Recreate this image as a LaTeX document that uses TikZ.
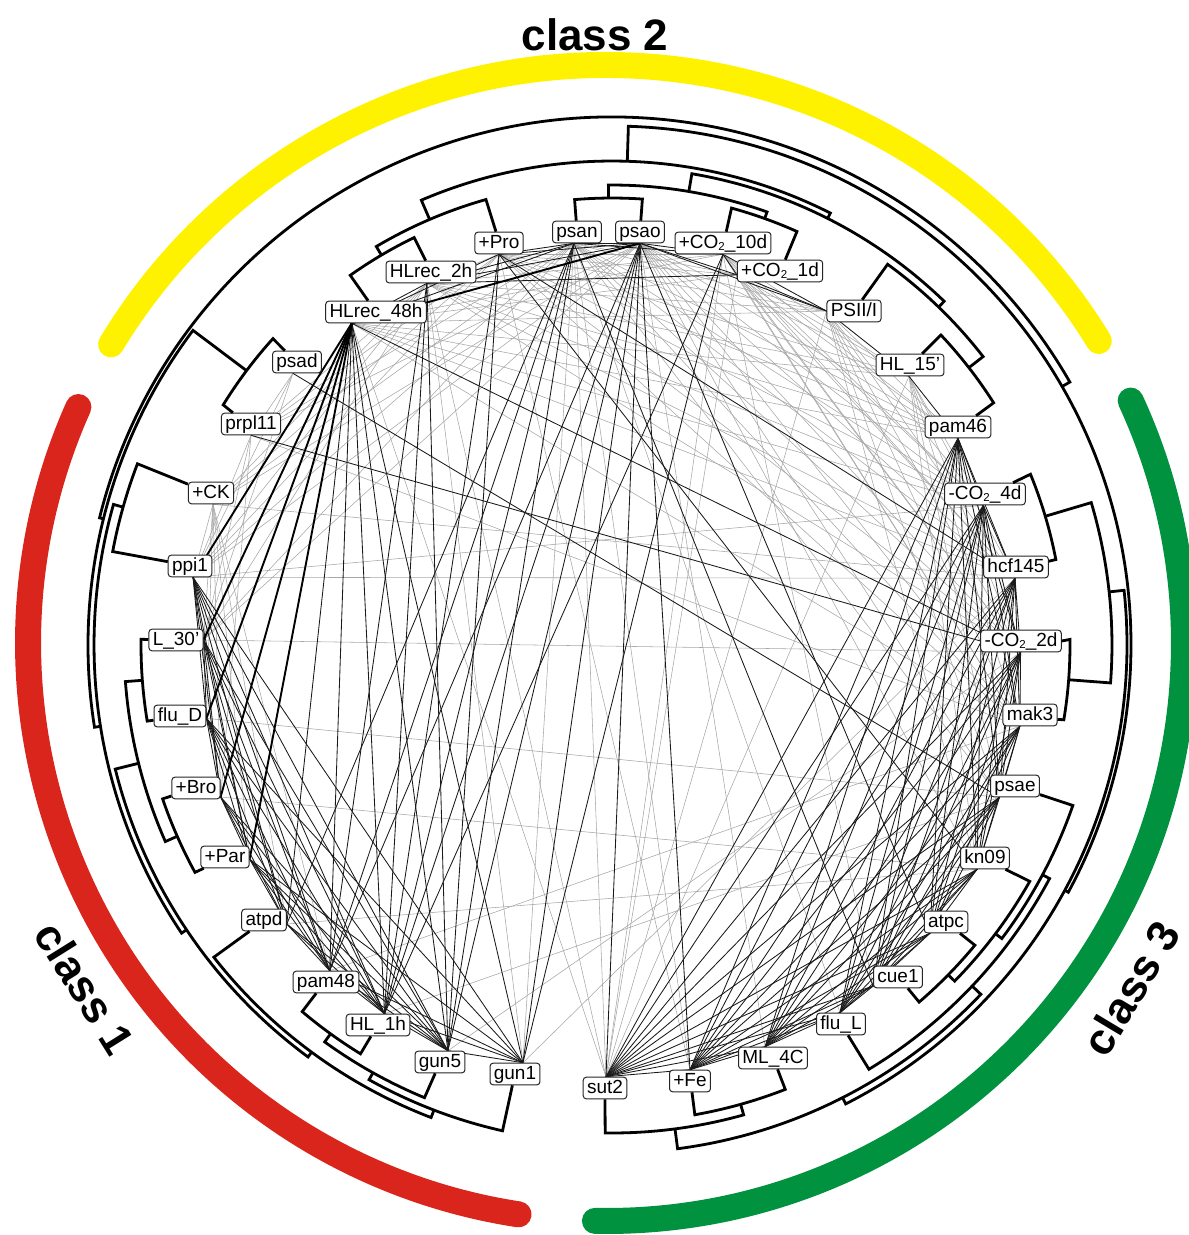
\documentclass[tikz,border=0pt]{standalone}
\usepackage{fontspec}
\setmainfont{Liberation Sans}
\pgfdeclarelayer{background}
\pgfsetlayers{background,main}
\definecolor{yel}{RGB}{255,242,0}
\definecolor{redc}{RGB}{218,37,29}
\definecolor{grnc}{RGB}{0,146,63}
\newcommand\COtwo{CO\raisebox{-2.5pt}{\fontsize{11.5}{11.5}\selectfont 2}}
\begin{document}
\begin{tikzpicture}[x=1pt,y=-1pt,
  lab/.style={draw=black!85, line width=1pt, rounded corners=3pt, fill=white,
    inner xsep=3.8pt, inner ysep=2pt, text height=13.8pt, text depth=3.8pt,
    font=\fontsize{19}{19}\selectfont},
  dend/.style={line width=2.8pt},
  blk/.style={line width=0.85pt, black!90},
  thk/.style={line width=1.9pt, black},
  gry/.style={line width=0.55pt, black!35},
  cls/.style={font=\fontsize{44}{44}\selectfont\bfseries},
  band/.style={line width=26pt, line cap=round}]
\useasboundingbox (0,0) rectangle (1189,1235);

% ---------- labels ----------
\node[lab] (Pro)   at (499,243)  {+Pro};
\node[lab] (psan)  at (577,232)  {psan};
\node[lab] (psao)  at (640,232)  {psao};
\node[lab] (C10d)  at (723,243)  {+\COtwo\_10d};
\node[lab] (C1d)   at (780,271)  {+\COtwo\_1d};
\node[lab] (PSII)  at (854,311)  {PSII/I};
\node[lab] (HL15)  at (910,365)  {HL\_15’};
\node[lab] (pam46) at (958,427)  {pam46};
\node[lab] (C4d)   at (985,494)  {-\COtwo\_4d};
\node[lab] (hcf)   at (1016,567) {hcf145};
\node[lab] (C2d)   at (1021,641) {-\COtwo\_2d};
\node[lab] (mak3)  at (1030,715) {mak3};
\node[lab] (psae)  at (1015,786) {psae};
\node[lab] (kn09)  at (985,858)  {kn09};
\node[lab] (atpc)  at (946,922)  {atpc};
\node[lab] (cue1)  at (898,977)  {cue1};
\node[lab] (fluL)  at (841,1024) {flu\_L};
\node[lab] (ML4C)  at (773,1058) {ML\_4C};
\node[lab] (Fe)    at (690,1081) {+Fe};
\node[lab] (sut2)  at (605,1088) {sut2};
\node[lab] (gun1)  at (515,1074) {gun1};
\node[lab] (gun5)  at (440,1062) {gun5};
\node[lab] (HL1h)  at (378,1025) {HL\_1h};
\node[lab] (pam48) at (326,982)  {pam48};
\node[lab] (atpd)  at (264,920)  {atpd};
\node[lab] (Par)   at (225,857)  {+Par};
\node[lab] (Bro)   at (196,788)  {+Bro};
\node[lab] (fluD)  at (180,716)  {flu\_D};
\node[lab] (L30)   at (176,640)  {L\_30’};
\node[lab] (ppi1)  at (190,566)  {ppi1};
\node[lab] (CK)    at (211,493)  {+CK};
\node[lab] (prpl)  at (251,424)  {prpl11};
\node[lab] (psad)  at (297,362)  {psad};
\node[lab] (H48)   at (376,312)  {HLrec\_48h};
\node[lab] (H2)    at (431,272)  {HLrec\_2h};

% ---------- inner attachment points ----------
\coordinate (iPro) at (Pro.270);   \coordinate (ipsan) at (psan.255);
\coordinate (ipsao) at (psao.270); \coordinate (iC10d) at (C10d.270);
\coordinate (iC1d) at (C1d.185);   \coordinate (iPSII) at (PSII.180);
\coordinate (iHL15) at (HL15.265); \coordinate (ipam46) at (pam46.270);
\coordinate (iC4d) at (C4d.262);   \coordinate (ihcf) at (hcf.265);
\coordinate (iC2d) at (C2d.268);   \coordinate (imak3) at (mak3.228);
\coordinate (ipsae) at (psae.216); \coordinate (ikn09) at (kn09.235);
\coordinate (iatpc) at (atpc.215); \coordinate (icue1) at (cue1.200);
\coordinate (ifluL) at (fluL.95);  \coordinate (iML4C) at (ML4C.125);
\coordinate (iFe) at (Fe.90);      \coordinate (isut2) at (sut2.85);
\coordinate (igun1) at (gun1.55);  \coordinate (igun5) at (gun5.55);
\coordinate (iHL1h) at (HL1h.60);  \coordinate (ipam48) at (pam48.72);
\coordinate (iatpd) at (atpd.350); \coordinate (iPar) at (Par.355);
\coordinate (iBro) at (Bro.340);   \coordinate (ifluD) at (fluD.355);
\coordinate (iL30) at (L30.0);     \coordinate (ippi1) at (ppi1.285);
\coordinate (iCK) at (CK.280);     \coordinate (iprpl) at (prpl.270);
\coordinate (ipsad) at (psad.250); \coordinate (iH48) at (H48.205);
\coordinate (iH2) at (H2.250);

% ---------- network edges ----------
\begin{pgfonlayer}{background}
\foreach \u/\v in {H48/C10d, H48/C1d, H48/PSII, H2/Pro, H2/C10d, H2/PSII, Pro/C10d,
  Pro/C1d, Pro/PSII, psan/C1d, psan/PSII, psao/HL15, C10d/HL15, C1d/HL15, H2/HL15,
  Pro/HL15, PSII/pam46, PSII/C4d, PSII/hcf, PSII/C2d, HL15/C4d, HL15/hcf, HL15/C2d,
  HL15/mak3, C1d/pam46, C1d/hcf, C1d/C4d, C10d/pam46, C10d/C2d, psan/pam46, psao/C4d,
  psan/hcf, H2/pam46, Pro/mak3, H48/HL15,
  H48/pam46, H48/C4d, H48/hcf, H2/C4d, H2/C2d, Pro/pam46, Pro/C4d, Pro/C2d,
  psan/C4d, psan/C2d, psan/mak3, psao/pam46, psao/hcf, psao/C2d, psao/mak3,
  psao/psae, C10d/C4d, C10d/hcf, C10d/mak3, C1d/C2d, C1d/mak3, PSII/mak3,
  PSII/psae, HL15/psae, HL15/kn09, PSII/kn09, CK/psao, CK/Pro, prpl/psan,
  prpl/Pro, ppi1/psao, L30/psan, L30/psao,
  CK/L30, CK/fluD, CK/Bro, CK/Par, CK/atpd, CK/pam48, prpl/ppi1, prpl/L30, prpl/Bro,
  prpl/H2, prpl/psao, CK/psan, CK/H2, psad/prpl, psad/ppi1, psad/L30, ppi1/H2,
  ppi1/psan, ppi1/Pro, L30/H2, CK/ppi1,
  psan/sut2, psan/Fe, psao/ML4C, psan/fluL, psao/kn09, psan/psae, C10d/cue1,
  C10d/sut2, C1d/sut2, Pro/Fe, H2/sut2, H48/sut2, psan/gun1, H2/gun1, sut2/HL15,
  sut2/PSII, ppi1/hcf, L30/C2d, CK/hcf, prpl/mak3, ppi1/C4d, fluD/psae, Bro/kn09,
  H48/mak3, H2/hcf, HL1h/psae, gun5/C2d, gun1/hcf, pam48/mak3, atpd/kn09}
  \draw[gry] (i\u) -- (i\v);
\foreach \u/\v in {ppi1/L30, ppi1/fluD, ppi1/Bro, ppi1/Par, ppi1/atpd, ppi1/pam48,
  ppi1/HL1h, L30/fluD, L30/Bro, L30/Par, L30/atpd, L30/pam48, L30/HL1h,
  fluD/Bro, fluD/Par, fluD/atpd, fluD/pam48, fluD/HL1h, Bro/Par, Bro/atpd,
  Bro/pam48, Bro/HL1h, Par/atpd, Par/pam48, Par/HL1h, atpd/pam48, atpd/HL1h,
  pam48/HL1h, gun5/ppi1, gun5/L30, gun5/fluD, gun5/Bro, gun5/Par, gun5/atpd,
  gun5/pam48, gun5/HL1h, gun1/HL1h, gun1/pam48, gun1/gun5, gun1/fluD, gun1/ppi1,
  gun1/Par, H48/atpd, H48/pam48, H48/HL1h, H48/gun5, H48/gun1, H48/H2, H48/Pro,
  H48/psan, H48/C2d, psan/HL1h, psan/gun5, psan/pam48, psan/atpd, psao/HL1h,
  psao/gun5, psao/gun1, psao/pam48, Pro/gun5, Pro/HL1h, H2/pam48, H2/HL1h, H2/gun5,
  C10d/HL1h, C10d/gun1, H2/psao, H2/psan, H2/C1d, Pro/psan, Pro/psao, psan/psao,
  psao/C10d, psao/C1d, psan/C10d, C10d/C1d, C1d/PSII, C10d/PSII, psao/PSII,
  PSII/HL15, HL15/pam46, Pro/hcf, Pro/kn09, psad/psae, psao/atpc, psan/cue1,
  prpl/C2d, psao/sut2, psao/Fe}
  \draw[blk] (i\u) -- (i\v);
\foreach \u [count=\i] in {pam46,C4d,hcf,C2d,mak3,psae,kn09,atpc,cue1,fluL,ML4C,Fe,sut2}
  \foreach \v [count=\j] in {pam46,C4d,hcf,C2d,mak3,psae,kn09,atpc,cue1,fluL,ML4C,Fe,sut2}
    {\ifnum\j>\i \draw[blk] (i\u) -- (i\v); \fi}
\foreach \u/\v in {H48/ppi1, H48/L30, H48/fluD, H48/Bro, H48/Par, H48/psao}
  \draw[thk] (i\u) -- (i\v);
\end{pgfonlayer}

% ---------- class bands ----------
\begin{scope}[shift={(606,643)}, yscale=-1]
  \draw[band, yel]  (31.5:578) arc[start angle=31.5, end angle=148.9, radius=578];
  \draw[band, redc] (155.9:578) arc[start angle=155.9, end angle=261.3, radius=578];
  \draw[band, grnc] (-91.1:578) arc[start angle=-91.1, end angle=24.8, radius=578];
\end{scope}
\node[cls] (k2) at (595,35) {class 2};
\node[cls, rotate=-58] (k1) at (85,988) {class 1};
\node[cls, rotate=59] (k3) at (1131,988) {class 3};

% ---------- dendrogram ----------
\begin{scope}[shift={(612,645)}, yscale=-1, dend]
% class 1 side
\draw (L30.179.3) -- (179.3:471) arc[start angle=179.3,end angle=189.3,radius=471] -- (fluD.189.3);
\draw (Bro.198.9) -- (198.9:475) arc[start angle=198.9,end angle=208.6,radius=475] -- (Par.208.6);
\draw (184.3:471) -- (184.3:488) arc[start angle=184.3,end angle=203.75,radius=488] -- (203.75:475);
\draw (pam48.229.8) -- (229.8:480) arc[start angle=229.8,end angle=238.4,radius=480] -- (HL1h.238.4);
\draw (234.1:480) -- (234.1:490) arc[start angle=234.1,end angle=247.5,radius=490] -- (gun5.247.5);
\draw (240.8:490) -- (240.8:498) arc[start angle=240.8,end angle=257.3,radius=498] -- (gun1.257.3);
\draw (atpd.218.1) -- (218.1:506) arc[start angle=218.1,end angle=249.05,radius=506] -- (249.05:498);
\draw (194.03:488) -- (194.03:512) arc[start angle=194.03,end angle=233.58,radius=512] -- (233.58:506);
\draw (CK.159.1) -- (159.1:508) arc[start angle=159.1,end angle=169.4,radius=508] -- (ppi1.169.4);
\draw (164.25:508) -- (164.25:518) arc[start angle=164.25,end angle=213.8,radius=518] -- (213.8:512);
\draw (psad.137.9) -- (137.9:457) arc[start angle=137.9,end angle=148.3,radius=457] -- (prpl.148.3);
\draw (143.1:457) -- (143.1:524) arc[start angle=143.1,end angle=189.03,radius=524] -- (189.03:518);
% class 2 side
\draw (psan.94.8) -- (94.8:447) arc[start angle=94.8,end angle=86.1,radius=447] -- (psao.86.1);
\draw (C10d.74.7) -- (74.7:453) arc[start angle=74.7,end angle=65.9,radius=453] -- (C1d.65.9);
\draw (90.45:447) -- (90.45:460) arc[start angle=90.45,end angle=70.3,radius=460] -- (70.3:453);
\draw (HL15.43.3) -- (43.3:452) arc[start angle=43.3,end angle=32.4,radius=452] -- (pam46.32.4);
\draw (PSII.54.1) -- (54.1:470) arc[start angle=54.1,end angle=37.85,radius=470] -- (37.85:452);
\draw (80.38:460) -- (80.38:478) arc[start angle=80.38,end angle=45.98,radius=478] -- (45.98:470);
\draw (H48.125.3) -- (125.3:453) arc[start angle=125.3,end angle=115.9,radius=453] -- (H2.115.9);
\draw (120.6:453) -- (120.6:463) arc[start angle=120.6,end angle=105.8,radius=463] -- (Pro.105.8);
\draw (113.2:463) -- (113.2:484) arc[start angle=113.2,end angle=63.18,radius=484] -- (63.18:478);
% class 3 side
\draw (C4d.22.2) -- (22.2:452) arc[start angle=22.2,end angle=10.9,radius=452] -- (hcf.10.9);
\draw (C2d.0.7) -- (0.7:458) arc[start angle=0.7,end angle=-9.4,radius=458] -- (mak3.-9.4);
\draw (16.55:452) -- (16.55:500) arc[start angle=16.55,end angle=-4.35,radius=500] -- (-4.35:458);
\draw (atpc.-39.6) -- (-39.6:471) arc[start angle=-39.6,end angle=-49.3,radius=471] -- (cue1.-49.3);
\draw (kn09.-29.5) -- (-29.5:480) arc[start angle=-29.5,end angle=-44.45,radius=480] -- (-44.45:471);
\draw (psae.-19.2) -- (-19.2:488) arc[start angle=-19.2,end angle=-36.98,radius=488] -- (-36.98:480);
\draw (fluL.-58.8) -- (-58.8:496) arc[start angle=-58.8,end angle=-28.09,radius=496] -- (-28.09:488);
\draw (ML4C.-68.7) -- (-68.7:477) arc[start angle=-68.7,end angle=-80,radius=477] -- (Fe.-80);
\draw (sut2.-90.8) -- (-90.8:488) arc[start angle=-90.8,end angle=-74.35,radius=488] -- (-74.35:477);
\draw (-82.58:488) -- (-82.58:508) arc[start angle=-82.58,end angle=-43.44,radius=508] -- (-43.44:496);
\draw (-63.01:508) -- (-63.01:515) arc[start angle=-63.01,end angle=6.1,radius=515] -- (6.1:500);
% top levels
\draw (88.19:484) -- (88.19:519) arc[start angle=88.19,end angle=-28.45,radius=519] -- (-28.45:515);
\draw (29.87:519) -- (29.87:528) arc[start angle=29.87,end angle=166.06,radius=528] -- (166.06:524);
\end{scope}
\end{tikzpicture}
\end{document}
